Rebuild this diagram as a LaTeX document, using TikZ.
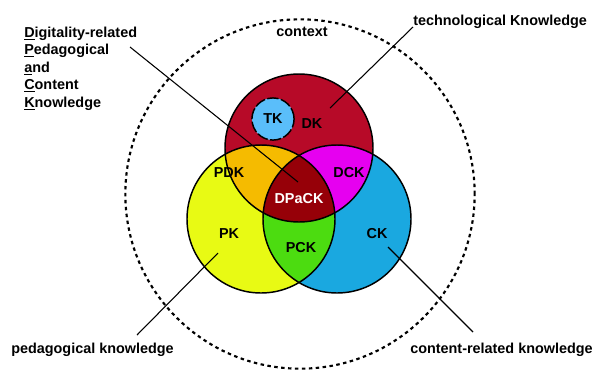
\documentclass[tikz,border=0pt]{standalone}
\usepackage{fontspec}
\setmainfont{Liberation Sans}
\begin{document}
\begin{tikzpicture}[x=0.75pt,y=-0.75pt,
  lbl/.style={font=\fontsize{10.8}{13.1}\selectfont\bfseries, inner sep=0pt},
  venn/.style={draw=black, line width=1.1pt},
  leader/.style={draw=black, line width=0.8pt}]
\definecolor{dkred}{RGB}{183,10,40}
\definecolor{pdkorange}{RGB}{245,187,0}
\definecolor{dckmag}{RGB}{230,0,240}
\definecolor{dpackred}{RGB}{150,0,8}
\definecolor{pkyellow}{RGB}{232,250,20}
\definecolor{pckgreen}{RGB}{76,220,16}
\definecolor{ckblue}{RGB}{26,168,224}
\definecolor{tkblue}{RGB}{90,190,250}

\useasboundingbox (0,0) rectangle (593,369);

% circle centres
\coordinate (cDK) at (299,148);
\coordinate (cPK) at (261,219);
\coordinate (cCK) at (337,219);
\coordinate (cTK) at (273,119);
\coordinate (cCtx) at (300,194);

% context boundary
\draw[line width=1.6pt, dash pattern=on 2.6pt off 2.6pt] (cCtx) circle (131pt);

% base discs
\fill[pkyellow] (cPK) circle (55.5pt);
\fill[ckblue] (cCK) circle (55.5pt);
\fill[dkred] (cDK) circle (55.5pt);
% pairwise overlaps
\begin{scope}
  \clip (cPK) circle (55.5pt);
  \fill[pdkorange] (cDK) circle (55.5pt);
  \fill[pckgreen] (cCK) circle (55.5pt);
\end{scope}
\begin{scope}
  \clip (cCK) circle (55.5pt);
  \fill[dckmag] (cDK) circle (55.5pt);
\end{scope}
% triple overlap
\begin{scope}
  \clip (cPK) circle (55.5pt);
  \clip (cCK) circle (55.5pt);
  \fill[dpackred] (cDK) circle (55.5pt);
\end{scope}
% outlines
\draw[venn] (cPK) circle (55.5pt);
\draw[venn] (cCK) circle (55.5pt);
\draw[venn] (cDK) circle (55.5pt);

% TK inside DK
\fill[tkblue] (cTK) circle (15.8pt);
\draw[line width=1.1pt, dash pattern=on 8.5pt off 1.8pt] (cTK) circle (15.8pt);

% region labels
\node[lbl] (tk) at (cTK) {TK};
\node[lbl] (dk) at (312,124) {DK};
\node[lbl] (pdk) at (229,173) {PDK};
\node[lbl] (dck) at (349,173) {DCK};
\node[lbl, text=white] (dpack) at (299,199) {DPaCK};
\node[lbl] (pk) at (229,234) {PK};
\node[lbl] (pck) at (301,248) {PCK};
\node[lbl] (ck) at (377,234) {CK};

% outer labels
\node[lbl] (ctx) at (302,32) {context};
\node[lbl, anchor=west] (techk) at (413,22) {technological Knowledge};
\node[lbl, anchor=west] (pedk) at (11,350) {pedagogical knowledge};
\node[lbl, anchor=west] (contk) at (410,350) {content-related knowledge};
\node[lbl, anchor=north west, align=left] (dpackk) at (24,26.5)
  {\underline{D}igitality-related\\\underline{P}edagogical\\\underline{a}nd\\\underline{C}ontent\\\underline{K}nowledge};

% leader lines
\coordinate (dpackFrom) at (130,47);
\coordinate (dpackTo) at (298,182);
\coordinate (techFrom) at (413,27);
\coordinate (techTo) at (330,108);
\coordinate (pedFrom) at (137,335);
\coordinate (pedTo) at (218,253);
\coordinate (contFrom) at (473,332);
\coordinate (contTo) at (388,247);
\draw[leader] (dpackFrom) -- (dpackTo);
\draw[leader] (techFrom) -- (techTo);
\draw[leader] (pedFrom) -- (pedTo);
\draw[leader] (contFrom) -- (contTo);
\end{tikzpicture}
\end{document}
